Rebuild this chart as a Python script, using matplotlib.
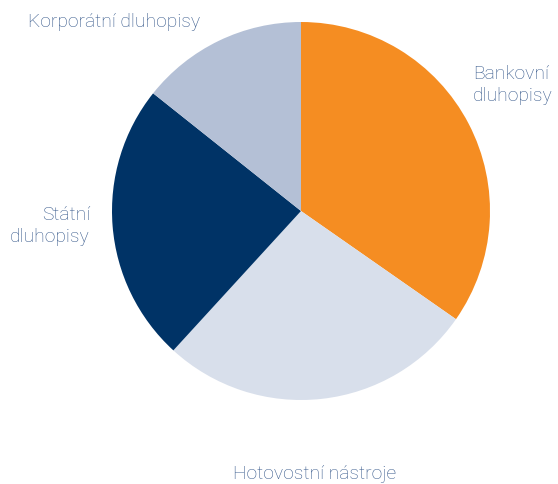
import matplotlib.pyplot as plt

labels = ['Bankovní\ndluhopisy', 'Hotovostní nástroje', 'Státní\ndluhopisy', 'Korporátní dluhopisy']
shares = [34.7, 27.1, 23.9, 14.3]
colors = ['#F58D22', '#D8DFEB', '#003366', '#B4C0D6']

fig = plt.figure(figsize=(5.58, 4.85), dpi=100)
ax = fig.add_axes([0, 0, 1, 1])
ax.pie(shares, colors=colors, startangle=90, counterclock=False,
       center=(301, 273), radius=189, wedgeprops=dict(linewidth=0))
ax.set_xlim(0, 558)
ax.set_ylim(0, 485)
ax.set_aspect('equal')
ax.axis('off')

txt = dict(color='#34578A', fontsize=13.9, family='Roboto', fontweight='light',
           linespacing=1.32)
ax.text(473, 400, labels[0], ha='left', va='center', **txt)
ax.text(315, 11, labels[1], ha='center', va='center', **txt)
ax.text(90, 259, labels[2], ha='right', va='center', multialignment='right', **txt)
ax.text(28, 463, labels[3], ha='left', va='center', **txt)

fig.savefig('out.png', dpi=100)
